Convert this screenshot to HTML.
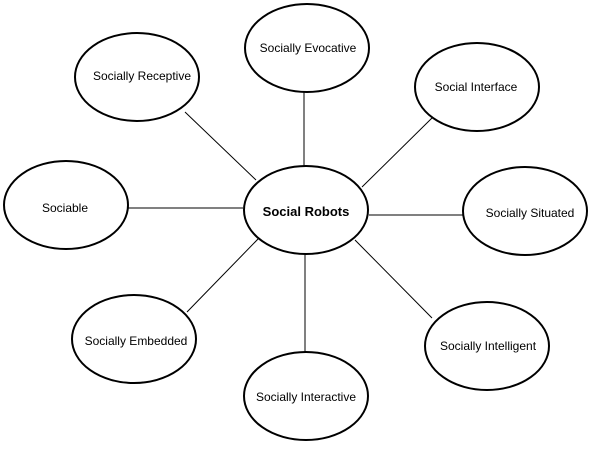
<!DOCTYPE html>
<html><head><style>html,body{margin:0;padding:0;background:#fff}</style></head><body>
<svg width="592" height="445" xmlns="http://www.w3.org/2000/svg" font-family="Liberation Sans, sans-serif" font-size="12">
<g stroke="#000" stroke-width="1">
<line x1="304" y1="92" x2="304" y2="166"/>
<line x1="185" y1="112" x2="256" y2="180"/>
<line x1="432" y1="118" x2="362" y2="187"/>
<line x1="128" y1="208" x2="243" y2="208"/>
<line x1="369" y1="215" x2="463" y2="215"/>
<line x1="187" y1="312" x2="258" y2="239"/>
<line x1="305" y1="254" x2="305" y2="352"/>
<line x1="355" y1="240" x2="432" y2="318"/>
</g>
<g fill="#fff" stroke="#000" stroke-width="2">
<ellipse cx="307" cy="48" rx="62" ry="44"/>
<ellipse cx="137" cy="77" rx="62" ry="44"/>
<ellipse cx="477" cy="87" rx="62" ry="44"/>
<ellipse cx="66" cy="205" rx="62" ry="44"/>
<ellipse cx="306" cy="210" rx="62" ry="44"/>
<ellipse cx="525" cy="211" rx="62" ry="44"/>
<ellipse cx="134" cy="339" rx="62" ry="44"/>
<ellipse cx="306" cy="396" rx="62" ry="44"/>
<ellipse cx="487" cy="346" rx="62" ry="44"/>
</g>
<g text-anchor="middle" fill="#000">
<text x="308" y="52">Socially Evocative</text>
<text x="142" y="80">Socially Receptive</text>
<text x="476" y="91">Social Interface</text>
<text x="65" y="212">Sociable</text>
<text x="306" y="216" font-weight="bold" font-size="13">Social Robots</text>
<text x="530" y="217">Socially Situated</text>
<text x="136" y="345">Socially Embedded</text>
<text x="306" y="401">Socially Interactive</text>
<text x="488" y="350">Socially Intelligent</text>
</g>
</svg>
</body></html>
